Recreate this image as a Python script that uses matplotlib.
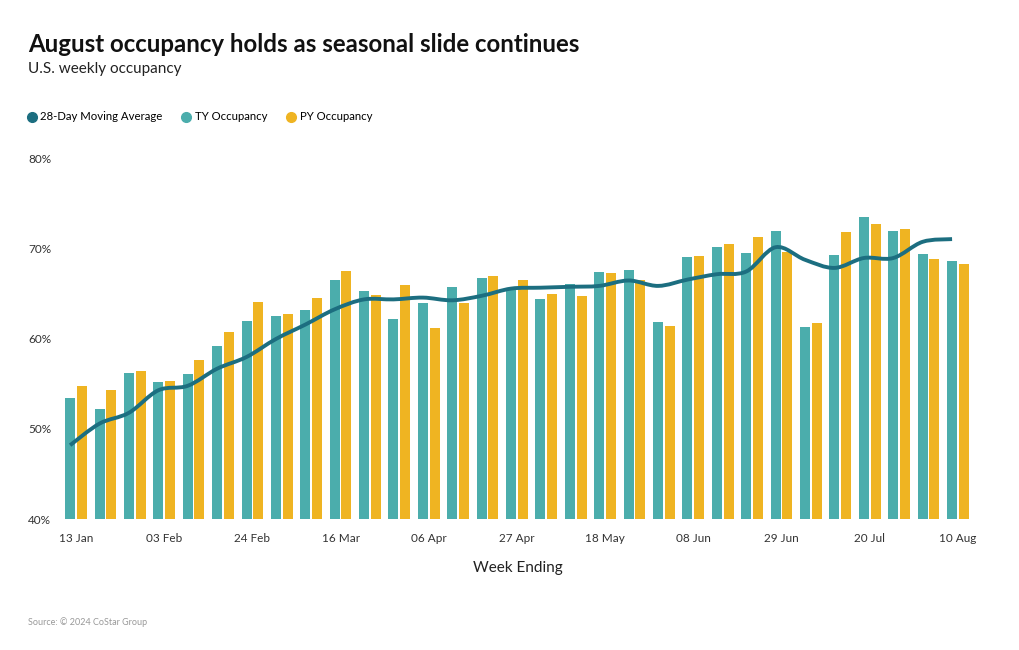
import numpy as np
import matplotlib
matplotlib.use("Agg")
import matplotlib.pyplot as plt
from matplotlib.path import Path
from matplotlib.patches import PathPatch
from matplotlib.lines import Line2D

# -------------------------------
# Data
# -------------------------------
weeks = ["13 Jan", "20 Jan", "27 Jan", "03 Feb", "10 Feb", "17 Feb", "24 Feb",
         "02 Mar", "09 Mar", "16 Mar", "23 Mar", "30 Mar", "06 Apr", "13 Apr",
         "20 Apr", "27 Apr", "04 May", "11 May", "18 May", "25 May", "01 Jun",
         "08 Jun", "15 Jun", "22 Jun", "29 Jun", "06 Jul", "13 Jul", "20 Jul",
         "27 Jul", "03 Aug", "10 Aug"]

ty_occ = [53.4, 52.2, 56.2, 55.2, 56.1, 59.2, 62.0, 62.5, 63.2, 66.5, 65.3,
          62.2, 64.0, 65.8, 66.8, 65.6, 64.4, 66.1, 67.4, 67.7, 61.9, 69.1,
          70.2, 69.5, 72.0, 61.3, 69.3, 73.6, 72.0, 69.4, 68.7]

py_occ = [54.8, 54.3, 56.4, 55.3, 57.7, 60.8, 64.1, 62.8, 64.6, 67.5, 64.9,
          66.0, 61.2, 64.0, 67.0, 66.5, 65.0, 64.8, 67.3, 66.6, 61.4, 69.2,
          70.6, 71.3, 69.7, 61.8, 71.9, 72.8, 72.2, 68.9, 68.3]

ma_28 = [48.2, 50.6, 51.8, 54.3, 54.8, 56.7, 58.0, 60.0, 61.6, 63.3, 64.4,
         64.4, 64.6, 64.3, 64.8, 65.6, 65.7, 65.8, 65.9, 66.5, 65.9, 66.6,
         67.2, 67.5, 70.2, 68.8, 67.9, 69.0, 69.0, 70.8, 71.1]

TY_COLOR = "#4badac"
PY_COLOR = "#efb422"
MA_COLOR = "#1c6e80"
FONT = "Lato"

# -------------------------------
# Figure
# -------------------------------
W, H = 1020, 650
fig = plt.figure(figsize=(W / 100, H / 100), dpi=100)
ax = fig.add_axes([60 / W, 1 - 519 / H, 915 / W, 360 / H])

x = np.arange(len(weeks))
bw = 0.34
ax.bar(x - 0.2, ty_occ, width=bw, color=TY_COLOR, zorder=2)
ax.bar(x + 0.2, py_occ, width=bw, color=PY_COLOR, zorder=2)

# smooth spline through the moving average (Catmull-Rom -> cubic Bezier)
px = x - 0.2
py = np.array(ma_28)
pts = np.column_stack([px, py])
ext = np.vstack([pts[0], pts, pts[-1]])
verts = [tuple(pts[0])]
codes = [Path.MOVETO]
for k in range(1, len(ext) - 2):
    p0, p1, p2, p3 = ext[k - 1], ext[k], ext[k + 1], ext[k + 2]
    c1 = p1 + (p2 - p0) / 6
    c2 = p2 - (p3 - p1) / 6
    verts += [tuple(c1), tuple(c2), tuple(p2)]
    codes += [Path.CURVE4] * 3
ax.add_patch(PathPatch(Path(verts, codes), facecolor="none", edgecolor=MA_COLOR,
                       lw=2.8, capstyle="butt", zorder=3))

ax.set_xlim(-0.544, 30.58)
ax.set_ylim(40, 80)
ax.set_yticks([40, 50, 60, 70, 80])
ax.set_yticklabels([f"{v}%" for v in [40, 50, 60, 70, 80]], fontfamily=FONT,
                   fontsize=8.5, color="#333333", ha="left")
ax.tick_params(axis="y", length=0, pad=23)
ax.set_xticks(x[::3])
ax.set_xticklabels(weeks[::3], fontfamily=FONT, fontsize=8.5, color="#333333")
ax.tick_params(axis="x", length=0, pad=10)
for s in ax.spines.values():
    s.set_visible(False)
ax.set_xlabel("Week Ending", fontfamily=FONT, fontsize=11, color="#222222", labelpad=12)

# -------------------------------
# Titles, legend, source
# -------------------------------
fig.text(28 / W, 1 - 44 / H, "August occupancy holds as seasonal slide continues",
         fontfamily=FONT, fontweight="bold", fontsize=17.3, color="#111111", va="center")
fig.text(28 / W, 1 - 69 / H, "U.S. weekly occupancy", fontfamily=FONT,
         fontsize=11, color="#222222", va="center")

handles = [Line2D([], [], ls="none", marker="o", ms=7, color=c)
           for c in (MA_COLOR, TY_COLOR, PY_COLOR)]
fig.legend(handles, ["28-Day Moving Average", "TY Occupancy", "PY Occupancy"],
           loc="center left", bbox_to_anchor=(27 / W, 1 - 117 / H), ncol=3,
           frameon=False, borderpad=0, borderaxespad=0, handletextpad=0.35,
           columnspacing=1.7, handlelength=0.8, prop={"family": FONT, "size": 8.2})

fig.text(28 / W, 1 - 622 / H, "Source: © 2024 CoStar Group", fontfamily=FONT,
         fontsize=6.5, color="#999999", va="center")

fig.savefig("out.png", dpi=100)
